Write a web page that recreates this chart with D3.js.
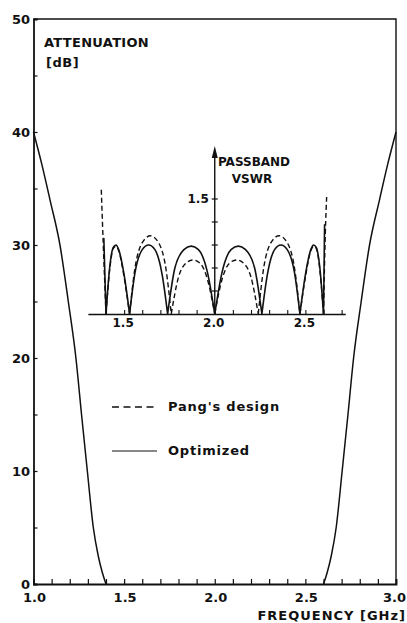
<!DOCTYPE html>
<html lang="en">
<head>
<meta charset="utf-8">
<script src="https://d3js.org/d3.v7.min.js"></script>
<style>
  body { margin: 0; background: #fff; }
  text { font-family: "DejaVu Sans", sans-serif; fill: #111; }
</style>
</head>
<body>
<script>
// attenuation [dB] vs frequency [GHz], stopband skirts
var attLeftF  = [1.0, 1.045, 1.091, 1.146, 1.192, 1.234, 1.265, 1.297, 1.33, 1.357, 1.38, 1.40];
var attLeftDb = [40, 37.2, 34, 30, 25, 20, 15, 10, 5, 2.5, 1, 0];
var attRightF  = [2.60, 2.62, 2.643, 2.67, 2.703, 2.735, 2.766, 2.808, 2.854, 2.909, 2.955, 3.0];
var attRightDb = [0, 1, 2.5, 5, 10, 15, 20, 25, 30, 34, 37.2, 40];

// passband VSWR (inset)
var optF = [1.388, 1.40, 1.42, 1.44, 1.455, 1.47, 1.50, 1.53, 1.56, 1.60, 1.635, 1.67, 1.71, 1.74,
            1.78, 1.83, 1.87, 1.91, 1.96, 2.0, 2.04, 2.09, 2.13, 2.17, 2.22, 2.26,
            2.29, 2.33, 2.365, 2.40, 2.44, 2.47, 2.50, 2.53, 2.545, 2.56, 2.58, 2.60, 2.606];
var optV = [1.33, 1.0, 1.20, 1.29, 1.30, 1.28, 1.17, 1.0, 1.18, 1.28, 1.30, 1.28, 1.17, 1.0,
            1.20, 1.28, 1.295, 1.28, 1.18, 1.0, 1.18, 1.28, 1.295, 1.28, 1.20, 1.0,
            1.17, 1.28, 1.30, 1.28, 1.18, 1.0, 1.17, 1.28, 1.30, 1.29, 1.20, 1.0, 1.39];
var pangF = [1.374, 1.385, 1.40, 1.42, 1.44, 1.455, 1.47, 1.50, 1.53, 1.56, 1.60, 1.645, 1.69, 1.73, 1.76,
             1.80, 1.84, 1.88, 1.92, 1.96, 2.0, 2.04, 2.08, 2.12, 2.16, 2.20, 2.24,
             2.27, 2.31, 2.355, 2.40, 2.44, 2.47, 2.50, 2.53, 2.545, 2.56, 2.58, 2.60, 2.61, 2.618];
var pangV = [1.54, 1.30, 1.0, 1.19, 1.285, 1.295, 1.275, 1.16, 1.0, 1.20, 1.31, 1.34, 1.31, 1.20, 1.0,
             1.16, 1.22, 1.235, 1.22, 1.15, 1.0, 1.15, 1.22, 1.235, 1.22, 1.16, 1.0,
             1.20, 1.31, 1.34, 1.31, 1.20, 1.0, 1.16, 1.275, 1.295, 1.285, 1.19, 1.0, 1.35, 1.52];

var yTicks = [0, 10, 20, 30, 40, 50];
var xTicks = [1.0, 1.5, 2.0, 2.5, 3.0];
var xTickLabels = ["1.0", "1.5", "2.0", "2.5", "3.0"];
var insetXTicks = [1.5, 2.0, 2.5];
var insetVTicks = [1.1, 1.2, 1.3, 1.4, 1.5];
var legendLabels = ["Pang's design", "Optimized"];

var width = 407, height = 623;
var ink = "#111";

var svg = d3.select("body").append("svg")
  .attr("width", width).attr("height", height);

var x = d3.scaleLinear().domain([1.0, 3.0]).range([33.5, 396]);
var y = d3.scaleLinear().domain([0, 50]).range([584, 19]);
var yv = d3.scaleLinear().domain([1.0, 1.5]).range([314, 199]);
// inset frequency axis only spans part of the band
var xi = d3.scaleLinear().domain([1.3, 2.72]).range([x(1.3), x(2.72)]);

// frame: top and right border
svg.append("path")
  .attr("d", "M" + x(1) + "," + y(50) + "H" + x(3) + "V" + y(0))
  .attr("fill", "none").attr("stroke", ink).attr("stroke-width", 1.4);

// left axis, ticks inside every 5 dB
svg.append("g")
  .attr("transform", "translate(" + x(1) + ",0)")
  .call(d3.axisRight(y).tickValues(d3.range(0, 51, 5)).tickSize(4).tickFormat(""))
  .call(function(g) {
    g.select(".domain").attr("stroke", ink).attr("stroke-width", 1.8);
    g.selectAll("line").attr("stroke", ink).attr("stroke-width", 1.2);
  });

svg.append("g").selectAll("text")
  .data(yTicks).join("text")
  .attr("x", 30).attr("y", function(d) { return y(d); })
  .attr("dy", "0.35em").attr("text-anchor", "end")
  .style("font-size", "13px").style("font-weight", "bold")
  .text(function(d) { return d; });

// bottom axis, ticks inside every 0.1 GHz
svg.append("g")
  .attr("transform", "translate(0," + y(0) + ")")
  .call(d3.axisTop(x).tickValues(d3.range(10, 31).map(function(d) { return d / 10; })).tickSize(5).tickFormat(""))
  .call(function(g) {
    g.select(".domain").attr("stroke", ink).attr("stroke-width", 1.8);
    g.selectAll("line").attr("stroke", ink).attr("stroke-width", 1.2);
  });

svg.append("g").selectAll("text")
  .data(xTicks).join("text")
  .attr("x", function(d, i) { return i === xTicks.length - 1 ? 406 : x(d) + 1; })
  .attr("y", 602)
  .attr("text-anchor", function(d, i) { return i === xTicks.length - 1 ? "end" : "middle"; })
  .style("font-size", "13px").style("font-weight", "bold")
  .text(function(d, i) { return xTickLabels[i]; });

svg.append("text")
  .attr("x", 406).attr("y", 620).attr("text-anchor", "end")
  .style("font-size", "13px").style("font-weight", "bold").style("letter-spacing", "1px")
  .text("FREQUENCY [GHz]");

svg.append("text")
  .attr("x", 44).attr("y", 47)
  .style("font-size", "13px").style("font-weight", "bold").style("letter-spacing", "0.3px")
  .text("ATTENUATION");
svg.append("text")
  .attr("x", 46).attr("y", 67)
  .style("font-size", "13px").style("font-weight", "bold").style("letter-spacing", "0.5px")
  .text("[dB]");

// attenuation curves
var attLine = d3.line()
  .x(function(d) { return x(d[0]); })
  .y(function(d) { return y(d[1]); })
  .curve(d3.curveMonotoneX);

[d3.zip(attLeftF, attLeftDb), d3.zip(attRightF, attRightDb)].forEach(function(pts) {
  svg.append("path").datum(pts)
    .attr("d", attLine)
    .attr("fill", "none").attr("stroke", ink).attr("stroke-width", 1.5);
});

// ---- inset: passband VSWR ----
var inset = svg.append("g");

inset.append("g")
  .attr("transform", "translate(0," + yv(1.0) + ")")
  .call(d3.axisTop(xi).tickValues(d3.range(14, 28).map(function(d) { return d / 10; })).tickSize(4).tickFormat("").tickSizeOuter(0))
  .call(function(g) {
    g.select(".domain").attr("stroke", ink).attr("stroke-width", 1.6);
    g.selectAll("line").attr("stroke", ink).attr("stroke-width", 1.1);
  });

inset.selectAll(".ixl")
  .data(insetXTicks).join("text")
  .attr("x", function(d) { return xi(d) - 1; }).attr("y", 327)
  .attr("text-anchor", "middle")
  .style("font-size", "12px").style("font-weight", "bold")
  .text(function(d) { return d.toFixed(1); });

// vertical VSWR axis with arrow at 2.0 GHz
inset.append("line")
  .attr("x1", xi(2.0)).attr("x2", xi(2.0))
  .attr("y1", yv(1.0)).attr("y2", 154)
  .attr("stroke", ink).attr("stroke-width", 1.4);
inset.append("path")
  .attr("d", "M" + (xi(2.0) - 3) + ",158L" + xi(2.0) + ",146L" + (xi(2.0) + 3) + ",158Z")
  .attr("fill", ink);
inset.selectAll(".ivt")
  .data(insetVTicks).join("line")
  .attr("x1", xi(2.0) - 3).attr("x2", xi(2.0) + 3)
  .attr("y1", function(d) { return yv(d); }).attr("y2", function(d) { return yv(d); })
  .attr("stroke", ink).attr("stroke-width", 1.2);
inset.append("text")
  .attr("x", xi(2.0) - 6).attr("y", yv(1.5)).attr("dy", "0.35em")
  .attr("text-anchor", "end")
  .style("font-size", "12px").style("font-weight", "bold")
  .text("1.5");
inset.append("text")
  .attr("x", 254).attr("y", 166).attr("text-anchor", "middle")
  .style("font-size", "12px").style("font-weight", "bold")
  .text("PASSBAND");
inset.append("text")
  .attr("x", 252).attr("y", 183).attr("text-anchor", "middle")
  .style("font-size", "12px").style("font-weight", "bold")
  .text("VSWR");

// split a series into bumps at its VSWR = 1 zeros so the cusps stay sharp
function bumps(f, v) {
  var pts = d3.zip(f, v), segs = [], cur = [pts[0]];
  for (var i = 1; i < pts.length; i++) {
    cur.push(pts[i]);
    if (pts[i][1] === 1 && i < pts.length - 1) { segs.push(cur); cur = [pts[i]]; }
  }
  segs.push(cur);
  return segs;
}

var vLine = d3.line()
  .x(function(d) { return xi(d[0]); })
  .y(function(d) { return yv(d[1]); })
  .curve(d3.curveMonotoneX);

inset.append("path")
  .attr("d", bumps(pangF, pangV).map(vLine).join(""))
  .attr("fill", "none").attr("stroke", ink).attr("stroke-width", 1.4)
  .attr("stroke-dasharray", "5,3");

inset.append("path")
  .attr("d", bumps(optF, optV).map(vLine).join(""))
  .attr("fill", "none").attr("stroke", ink).attr("stroke-width", 1.6);

// legend
var legend = svg.append("g");
legend.append("line")
  .attr("x1", 112).attr("x2", 157).attr("y1", 407).attr("y2", 407)
  .attr("stroke", ink).attr("stroke-width", 1.4).attr("stroke-dasharray", "7,4.5");
legend.append("line")
  .attr("x1", 112).attr("x2", 157).attr("y1", 451).attr("y2", 451)
  .attr("stroke", ink).attr("stroke-width", 1.2);
legend.selectAll("text")
  .data(legendLabels).join("text")
  .attr("x", 168).attr("y", function(d, i) { return 411 + i * 44; })
  .style("font-size", "13px").style("font-weight", "bold").style("letter-spacing", "0.8px")
  .text(function(d) { return d; });
</script>
</body>
</html>
